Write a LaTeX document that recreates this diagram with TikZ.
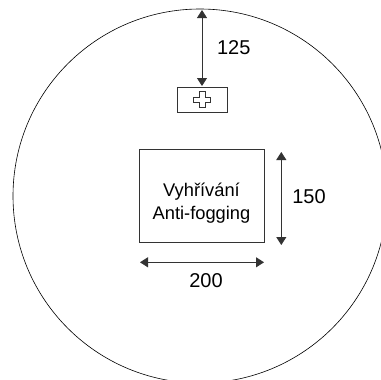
\documentclass[tikz,border=0pt]{standalone}
\usepackage{fontspec}
\setmainfont{Liberation Sans}
\usetikzlibrary{arrows.meta}
\tikzset{x=1pt,y=-1pt,
 dim/.style={draw=black!80,line width=0.9pt,{Triangle[length=8pt,width=10pt]}-{Triangle[length=8pt,width=10pt]}},
 box/.style={draw=black!80,line width=0.7pt,minimum width=#1,inner sep=0pt},
 lab/.style={font=\fontsize{20pt}{22pt}\selectfont,inner sep=0pt,anchor=center},
 txt/.style={font=\fontsize{18.3pt}{22.5pt}\selectfont,align=center,inner sep=0pt}}
\begin{document}
\begin{tikzpicture}
\path[use as bounding box] (0,0) rectangle (381,380);
\begin{scope}
\clip (0,0) rectangle (381,380);
\node[draw=black,line width=0.6pt,circle,minimum size=374pt,inner sep=0pt] (lens) at (200,196) {};
\end{scope}
\node[box=50.3pt,minimum height=25pt] (heater) at (202,99.8) {};
\draw[draw=black!80,line width=0.6pt,fill=white]
 (199,91.7)--(205,91.7)--(205,97)--(210.3,97)--(210.3,102.5)--(205,102.5)--(205,107.3)--(199,107.3)--(199,102.5)--(193.5,102.5)--(193.5,97)--(199,97)--cycle;
\coordinate (top) at (202,10);
\coordinate (bot) at (202,86);
\draw[dim] (top) -- (bot);
\node[lab] (l125) at (233.7,47.7) {125};
\node[box=125.2pt,minimum height=93.2pt] (area) at (202.1,196.1) {};
\node[txt] (t) at (201.5,203) {Vyhřívání\\Anti-fogging};
\coordinate (a1) at (281.3,152);
\coordinate (a2) at (281.3,245);
\draw[dim] (a1) -- (a2);
\node[lab] (l150) at (309,197) {150};
\coordinate (b1) at (140,262.3);
\coordinate (b2) at (264,262.3);
\draw[dim] (b1) -- (b2);
\node[lab] (l200) at (206,280.7) {200};
\end{tikzpicture}
\end{document}
